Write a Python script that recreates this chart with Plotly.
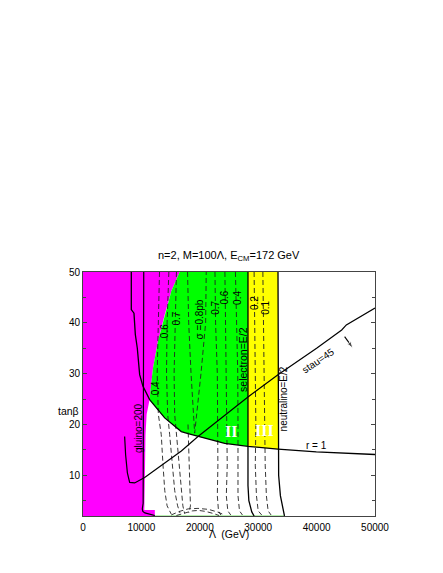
import plotly.graph_objects as go

# ---------------- data (Lambda in GeV, tan beta) ----------------
# excluded (magenta) region outline
magenta_L = [0, 0, 16550, 15120, 13990, 12840, 11990, 11590, 11410, 10900, 10700, 10600, 10500, 10500, 12300, 12300]
magenta_T = [2, 50, 50, 46.2, 41.6, 36.4, 31.1, 27.2, 24.9, 22.0, 18.0, 10.0, 4.0, 3.2, 3.2, 2]

# region II (green)
green_L = [16550, 28250, 28250, 24260, 19690, 18000, 16830, 13990, 11410, 11590, 11990, 12840, 13990, 15120]
green_T = [50, 50, 15.7, 16.3, 17.65, 18.2, 18.6, 21.3, 24.9, 27.2, 31.1, 36.4, 41.6, 46.2]

# region III (yellow)
yellow_L = [28250, 33390, 33390, 28250]
yellow_T = [50, 50, 15.15, 15.7]

# r = 1 contour
r1_L = [8270, 8270, 8730, 8960, 9300, 9700, 10270, 11410, 13990, 16830, 18000, 19690, 24260, 28250, 33390, 39950, 50000]
r1_T = [50, 42.6, 41.9, 37.7, 35.0, 29.8, 27.5, 24.9, 21.3, 18.6, 18.2, 17.65, 16.3, 15.7, 15.15, 14.6, 14.1]

# stau = 45 contour
stau_L = [7130, 7300, 7600, 7990, 8840, 10560, 16840, 19690, 28250, 33390, 40000, 44300, 45090, 50000]
stau_T = [17.65, 14.0, 10.5, 8.6, 8.5, 9.58, 14.8, 17.65, 25.4, 29.8, 35.0, 38.6, 39.6, 42.9]

# gluino = 200 line
gluino_L = [10400, 10400, 10380, 10300, 10150, 10250, 10600, 12300]
gluino_T = [50, 25, 10, 4.5, 3.4, 2.9, 2.6, 2.1]

# selectron = E/2 line
selectron_L = [28250, 28250, 28250, 28400, 28900, 29300]
selectron_T = [50, 15.7, 8.0, 5.0, 2.8, 2.0]

# neutralino = E/2 line
neutralino_L = [33390, 33390, 33500, 33800, 34300, 34500]
neutralino_T = [50, 15.15, 10.0, 6.0, 3.0, 2.0]

# cross-section contours (dashed), sigma in pb
sig_A_L = [13100, 12900, 12700, 12900, 13400, 13700, 14000, 14400, 15100]
sig_A_T = [50, 40, 30, 22, 18, 12, 7, 4, 2.4]
sig_B_L = [14700, 14400, 14300, 14500, 14840, 15300, 15700, 16200, 16600]
sig_B_T = [50, 40, 30, 22, 18, 12, 7, 4, 2.6]
sig_C_L = [16000, 15800, 15600, 15700, 16000, 16500, 16800, 17100, 17400]
sig_C_T = [50, 40, 30, 22, 18, 12, 7, 4, 2.5]
sig_V_L = [17900, 18100, 18500, 19120, 20200, 21000, 21100]
sig_V_T = [50, 40, 30, 18.3, 30, 40, 50]
sig_D_L = [17980, 18100, 18270, 18400, 18100]
sig_D_T = [20, 14, 6.5, 4.0, 2.6]
sig_E_L = [22600, 22700, 23000, 23120, 23100, 23000, 23200, 23600]
sig_E_T = [50, 40, 30, 20, 12, 6, 3, 2.2]
sig_F_L = [24300, 24400, 24600, 24710, 24700, 24540, 24800, 25300]
sig_F_T = [50, 40, 30, 20, 12, 6, 3, 2.2]
sig_G_L = [26100, 26300, 26500, 26540, 26500, 26540, 26800, 27300]
sig_G_T = [50, 40, 30, 20, 12, 6, 3, 2.2]
sig_H_L = [29300, 29400, 29500, 29600, 29500, 29700, 30000, 30600]
sig_H_T = [50, 40, 30, 20, 12, 6, 3, 2.2]
sig_I_L = [30800, 30900, 31000, 31200, 31200, 31400, 31700, 32200]
sig_I_T = [50, 40, 30, 20, 12, 6, 3, 2.2]
arc1_L = [15100, 16500, 18000, 19690, 21500, 23000, 24260]
arc1_T = [2.2, 2.9, 3.4, 3.5, 3.3, 2.8, 2.2]
arc2_L = [16000, 17300, 18700, 19800, 21000, 22300, 23300]
arc2_T = [2.1, 2.6, 3.0, 3.1, 2.9, 2.5, 2.1]

bottom_L = [12300, 34500]
bottom_T = [2.05, 2.05]

# arrow near the stau line
arrow_L = [44800, 46230]
arrow_T = [37.3, 35.0]

sigma_labels = ["0.4", "0.6", "0.7", "σ =0.8pb", "0.7", "0.6", "0.4", "0.2", "0.1"]
sigma_lab_L = [12560, 13990, 15980, 19970, 22550, 24260, 26540, 29280, 31110]
sigma_lab_T = [27.2, 38.3, 40.9, 40.6, 42.9, 44.9, 44.9, 43.9, 42.9]

x_ticks = [0, 10000, 20000, 30000, 40000, 50000]
y_ticks = [10, 20, 30, 40, 50]

# ---------------- figure ----------------
FONT = "Liberation Sans, Arial, sans-serif"
fig = go.Figure()

def fill(xs, ys, color):
    fig.add_trace(go.Scatter(x=xs, y=ys, mode="lines", fill="toself", fillcolor=color,
                             line=dict(width=0, color=color), hoverinfo="skip"))

def line(xs, ys, dash="solid", width=1.2, color="black"):
    fig.add_trace(go.Scatter(x=xs, y=ys, mode="lines",
                             line=dict(width=width, color=color, dash=dash), hoverinfo="skip"))

fill(magenta_L, magenta_T, "#FF00FF")
fill(green_L, green_T, "#00FF00")
fill(yellow_L, yellow_T, "#FFFF00")
line(bottom_L, bottom_T, width=1.5, color="#B8F0B0")

dashed = [(sig_A_L, sig_A_T), (sig_B_L, sig_B_T), (sig_C_L, sig_C_T), (sig_V_L, sig_V_T),
          (sig_D_L, sig_D_T), (sig_E_L, sig_E_T), (sig_F_L, sig_F_T), (sig_G_L, sig_G_T),
          (sig_H_L, sig_H_T), (sig_I_L, sig_I_T), (arc1_L, arc1_T), (arc2_L, arc2_T)]
for xs, ys in dashed:
    line(xs, ys, dash="5px,3px", width=0.9, color="#222222")

line(r1_L, r1_T, width=1.3)
line(stau_L, stau_T, width=1.2)
line(gluino_L, gluino_T, width=1.2)
line(selectron_L, selectron_T, width=1.3)
line(neutralino_L, neutralino_T, width=1.3)

# arrow: shaft plus arrow-head marker at the end
fig.add_trace(go.Scatter(x=arrow_L, y=arrow_T, mode="lines+markers",
                         line=dict(width=1.1, color="black"),
                         marker=dict(symbol=["circle", "arrow"], size=[0, 7], angleref="previous",
                                     color="black"),
                         hoverinfo="skip"))

ann = []
for t, lx, ly in zip(sigma_labels, sigma_lab_L, sigma_lab_T):
    ann.append(dict(x=lx, y=ly, text=t, textangle=-90, showarrow=False,
                    font=dict(family=FONT, size=10, color="black")))
ann += [
    dict(x=9420, y=19.3, text="gluino=200", textangle=-90, showarrow=False,
         font=dict(family=FONT, size=10, color="black")),
    dict(x=27400, y=32.7, text="selectron=E/2", textangle=-90, showarrow=False,
         font=dict(family=FONT, size=10.5, color="black")),
    dict(x=34300, y=25.0, text="neutralino=E/2", textangle=-90, showarrow=False,
         font=dict(family=FONT, size=10, color="black")),
    dict(x=40300, y=32.6, text="stau=45", textangle=-34, showarrow=False,
         font=dict(family=FONT, size=10, color="black")),
    dict(x=39950, y=15.9, text="r = 1", showarrow=False,
         font=dict(family=FONT, size=10, color="black")),
    dict(x=25400, y=18.6, text="<b>II</b>", showarrow=False,
         font=dict(family="Liberation Serif, DejaVu Serif, serif", size=16, color="white")),
    dict(x=31100, y=18.9, text="<b>III</b>", showarrow=False,
         font=dict(family="Liberation Serif, DejaVu Serif, serif", size=16, color="white")),
    dict(x=0.5, y=1.028, xref="paper", yref="paper", yanchor="bottom",
         text="n=2, M=100Λ, E<sub>CM</sub>=172 GeV",
         showarrow=False, font=dict(family=FONT, size=11, color="black")),
    dict(x=0.5, y=-0.105, xref="paper", yref="paper", text="Λ  (GeV)",
         showarrow=False, font=dict(family=FONT, size=10.5, color="black")),
    dict(x=-0.0925, y=0.43, xref="paper", yref="paper", text="tanβ",
         showarrow=False, font=dict(family=FONT, size=10.5, color="black")),
]

fig.update_layout(
    width=443, height=573,
    margin=dict(l=75, r=76, t=264, b=65),
    paper_bgcolor="white", plot_bgcolor="white",
    showlegend=False,
    annotations=ann,
    font=dict(family=FONT, size=10, color="black"),
)
fig.update_xaxes(range=[0, 50000], tickvals=x_ticks, ticktext=[str(v) for v in x_ticks],
                 showgrid=False, zeroline=False, showline=True, linecolor="#444444", linewidth=1,
                 mirror=True, ticks="", ticklabelstandoff=2,
                 tickfont=dict(family=FONT, size=10, color="black"))
fig.update_yaxes(range=[2, 50], tickvals=y_ticks, ticktext=[str(v) for v in y_ticks],
                 showgrid=False, zeroline=False, showline=True, linecolor="#444444", linewidth=1,
                 mirror="ticks", ticks="inside", ticklen=4, tickcolor="#444444",
                 minor=dict(ticks="inside", dtick=5, tick0=0, ticklen=3, tickcolor="#444444"),
                 tickfont=dict(family=FONT, size=10, color="black"))

fig.write_html("out.html")
